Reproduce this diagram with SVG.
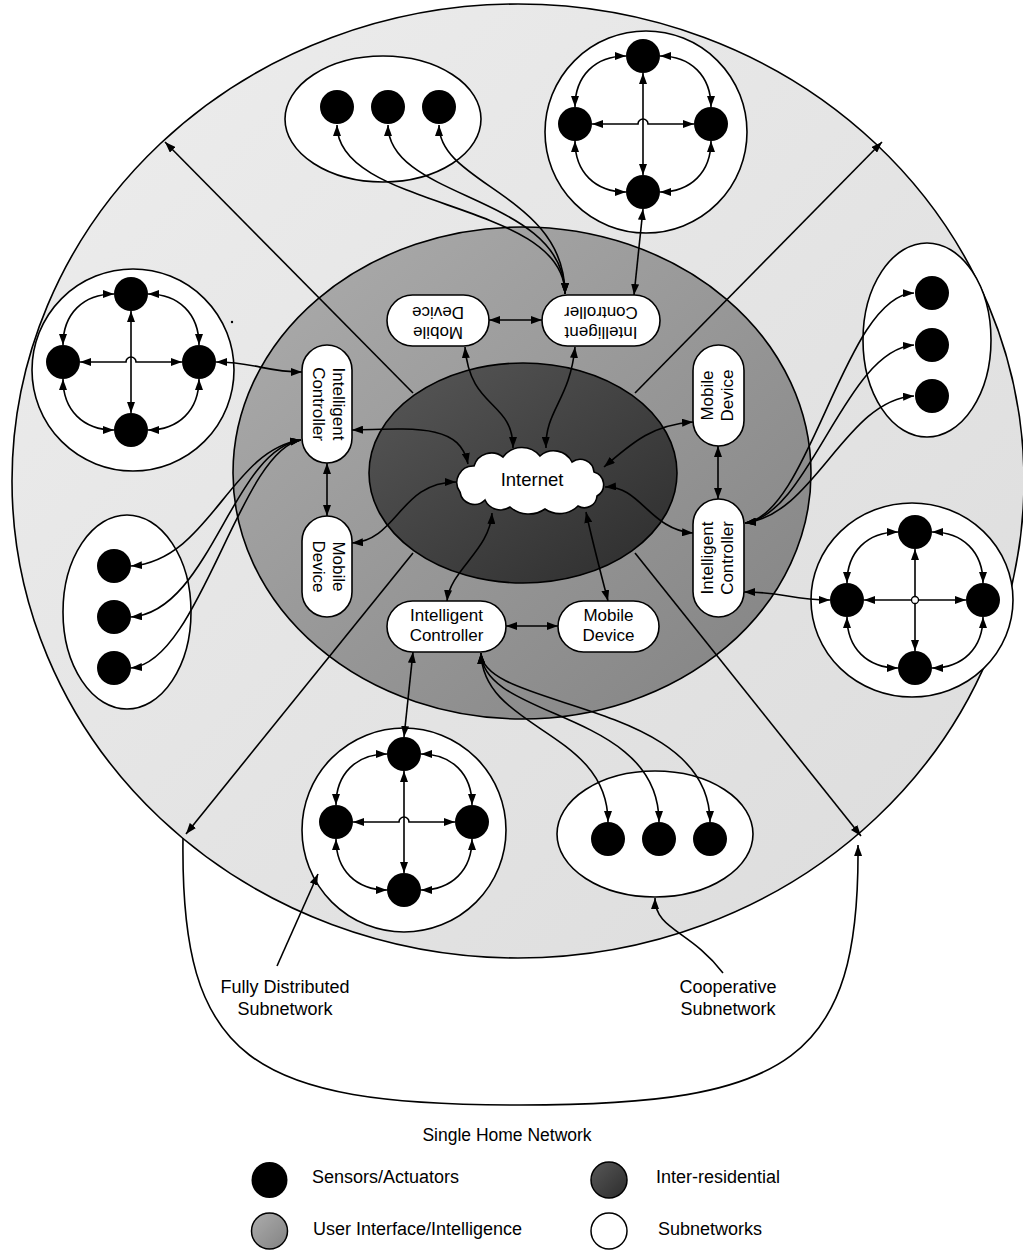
<svg xmlns="http://www.w3.org/2000/svg" xmlns:xlink="http://www.w3.org/1999/xlink" width="1023" height="1250" viewBox="0 0 1023 1250">
<style>
.conn{fill:none;stroke:#000;stroke-width:1.6;marker-start:url(#ah);marker-end:url(#ah)}
.one{fill:none;stroke:#000;stroke-width:1.6;marker-end:url(#ah)}
.plain{fill:none;stroke:#000;stroke-width:1.6}
.sub{fill:#fff;stroke:#000;stroke-width:1.6}
.dot{fill:#000}
.box{fill:#fff;stroke:#000;stroke-width:1.6}
.lbl{font-family:"Liberation Sans",Arial,sans-serif;font-size:17px;text-anchor:middle;fill:#000}
.cap{font-family:"Liberation Sans",Arial,sans-serif;font-size:18px;text-anchor:middle;fill:#000}
.leg{font-family:"Liberation Sans",Arial,sans-serif;font-size:18px;fill:#000}
</style>
<defs>
<marker id="ah" viewBox="0 0 11 8" refX="11" refY="4" markerWidth="11" markerHeight="8" markerUnits="userSpaceOnUse" orient="auto-start-reverse"><path d="M0,0 L11,4 L0,8 Z" fill="#000"/></marker>
<linearGradient id="gOuter" x1="0" y1="0" x2="1" y2="1"><stop offset="0" stop-color="#ededed"/><stop offset="1" stop-color="#dcdcdc"/></linearGradient>
<linearGradient id="gMid" x1="0" y1="0" x2="1" y2="1"><stop offset="0" stop-color="#adadad"/><stop offset="1" stop-color="#828282"/></linearGradient>
<linearGradient id="gDark" x1="0" y1="0" x2="1" y2="1"><stop offset="0" stop-color="#585858"/><stop offset="1" stop-color="#2c2c2c"/></linearGradient>
<g id="fd">
<path class="conn" d="M -17 -68 C -48 -68 -68 -48 -68 -17"/>
<path class="conn" d="M 17 -68 C 48 -68 68 -48 68 -17"/>
<path class="conn" d="M -17 68 C -48 68 -68 48 -68 17"/>
<path class="conn" d="M 17 68 C 48 68 68 48 68 17"/>
<path class="conn" d="M 0 -51 L 0 51"/>
<circle class="dot" cx="0" cy="-68" r="17"/>
<circle class="dot" cx="-68" cy="0" r="17"/>
<circle class="dot" cx="68" cy="0" r="17"/>
<circle class="dot" cx="0" cy="68" r="17"/>
</g>
<g id="fdHop">
<use xlink:href="#fd" href="#fd"/>
<path class="conn" d="M -51 0 L -5 0 A 5 5 0 0 1 5 0 L 51 0"/>
</g>
</defs>

<g id="background">
<ellipse cx="518" cy="481" rx="506" ry="477" fill="url(#gOuter)" stroke="#000" stroke-width="1.6"/>
<ellipse cx="522" cy="473" rx="289" ry="246" fill="url(#gMid)" stroke="#000" stroke-width="1.6"/>
<path class="one" d="M 413 393 L 165 142"/>
<path class="one" d="M 635 393 L 882 142"/>
<path class="one" d="M 413 553 L 186 834"/>
<path class="one" d="M 635 553 L 861 836"/>
<ellipse cx="523" cy="473" rx="154" ry="110" fill="url(#gDark)" stroke="#000" stroke-width="1.6"/>
<circle cx="232" cy="322" r="1.2" fill="#000"/>
</g>

<g id="sub-top-coop">
<ellipse class="sub" cx="383" cy="119" rx="98" ry="63"/>
<circle class="dot" cx="337" cy="107" r="17"/>
<circle class="dot" cx="388" cy="107" r="17"/>
<circle class="dot" cx="439" cy="107" r="17"/>
</g>
<g id="sub-top-fd">
<circle class="sub" cx="646" cy="132" r="101"/>
<use xlink:href="#fdHop" href="#fdHop" transform="translate(643,124)"/>
</g>
<g id="sub-left-fd">
<circle class="sub" cx="133" cy="370" r="101"/>
<use xlink:href="#fdHop" href="#fdHop" transform="translate(131,362)"/>
</g>
<g id="sub-left-coop">
<ellipse class="sub" cx="127" cy="612" rx="64" ry="97"/>
<circle class="dot" cx="114" cy="566" r="17"/>
<circle class="dot" cx="114" cy="617" r="17"/>
<circle class="dot" cx="114" cy="668" r="17"/>
</g>
<g id="sub-right-coop">
<ellipse class="sub" cx="927" cy="340" rx="64" ry="97"/>
<circle class="dot" cx="932" cy="293" r="17"/>
<circle class="dot" cx="932" cy="345" r="17"/>
<circle class="dot" cx="932" cy="396" r="17"/>
</g>
<g id="sub-right-fd">
<ellipse class="sub" cx="912" cy="600" rx="101" ry="97"/>
<use xlink:href="#fd" href="#fd" transform="translate(915,600)"/>
<path class="conn" d="M 864 600 L 966 600"/>
<circle cx="915" cy="600" r="3.5" fill="#fff" stroke="#000" stroke-width="1.3"/>
</g>
<g id="sub-bottom-fd">
<circle class="sub" cx="404" cy="830" r="102"/>
<use xlink:href="#fdHop" href="#fdHop" transform="translate(404,822)"/>
</g>
<g id="sub-bottom-coop">
<ellipse class="sub" cx="655" cy="834" rx="98" ry="63"/>
<circle class="dot" cx="608" cy="839" r="17"/>
<circle class="dot" cx="659" cy="839" r="17"/>
<circle class="dot" cx="710" cy="839" r="17"/>
</g>

<g id="connectors">
<!-- top -->
<path class="conn" d="M 489 320 L 542 320"/>
<path class="conn" d="M 337 125 C 337 210 565 200 565 294"/>
<path class="conn" d="M 388 125 C 388 200 565 195 565 294"/>
<path class="conn" d="M 439 125 C 439 185 565 195 565 294"/>
<path class="conn" d="M 634 295 L 643 209"/>
<path class="conn" d="M 575 347 C 570 400 545 410 546 448"/>
<path class="conn" d="M 465 347 C 470 410 513 400 513 448"/>
<!-- left -->
<path class="conn" d="M 327 463 L 327 516"/>
<path class="conn" d="M 216 362 C 255 362 265 372 302 372"/>
<path class="conn" d="M 131 566 C 210 560 230 450 301 440"/>
<path class="conn" d="M 131 617 C 210 612 232 450 301 440"/>
<path class="conn" d="M 131 668 C 200 662 240 450 301 440"/>
<path class="conn" d="M 352 430 C 420 428 460 425 468 464"/>
<path class="conn" d="M 352 543 C 398 540 400 482 456 482"/>
<!-- right -->
<path class="conn" d="M 718 446 L 718 499"/>
<path class="conn" d="M 745 523 C 810 515 845 295 914 293"/>
<path class="conn" d="M 745 523 C 810 515 845 350 914 345"/>
<path class="conn" d="M 745 523 C 815 515 845 400 914 396"/>
<path class="conn" d="M 744 592 C 785 592 790 600 830 600"/>
<path class="conn" d="M 693 422 C 650 425 630 445 604 467"/>
<path class="conn" d="M 693 533 C 650 530 640 485 605 487"/>
<!-- bottom -->
<path class="conn" d="M 506 626 L 558 626"/>
<path class="conn" d="M 413 652 L 404 737"/>
<path class="conn" d="M 481 653 C 483 730 608 730 608 822"/>
<path class="conn" d="M 481 653 C 483 720 659 710 659 822"/>
<path class="conn" d="M 481 653 C 483 710 710 700 710 822"/>
<path class="conn" d="M 447 601 C 450 570 490 550 492 513"/>
<path class="conn" d="M 608 601 C 600 570 592 540 586 512"/>
<!-- annotations -->
<path class="one" d="M 183 838 C 180 1060 250 1105 520 1105 C 790 1105 860 1060 858 845"/>
<path class="one" d="M 277 966 L 318 874"/>
<path class="one" d="M 723 973 C 690 930 655 930 655 898"/>
</g>

<g id="internet">
<path d="M 460 492 A 16.4 16.4 0 0 1 474 466 A 18.4 18.4 0 0 1 503 457 A 23.5 23.5 0 0 1 540 456 A 20.6 20.6 0 0 1 572 462 A 13.9 13.9 0 0 1 594 472 A 13.1 13.1 0 0 1 597 496 A 12.6 12.6 0 0 1 578 506 A 25.8 25.8 0 0 1 545 509 A 28.5 28.5 0 0 1 510 507 A 17 17 0 0 1 485 500 A 14.7 14.7 0 0 1 460 492 Z" fill="#fff" stroke="#000" stroke-width="1.6"/>
<text x="532" y="486" style="font-family:'Liberation Sans',Arial,sans-serif;font-size:18.5px;text-anchor:middle">Internet</text>
</g>

<g id="top-mobile">
<rect class="box" x="387" y="295" width="102" height="51" rx="25.5"/>
<g transform="rotate(180 438 320.5)"><text class="lbl" x="438" y="314.5">Mobile</text><text class="lbl" x="438" y="334.5">Device</text></g>
</g>
<g id="top-controller">
<rect class="box" x="542" y="295" width="118" height="51" rx="25.5"/>
<g transform="rotate(180 601 320.5)"><text class="lbl" x="601" y="314.5">Intelligent</text><text class="lbl" x="601" y="334.5">Controller</text></g>
</g>
<g id="left-controller">
<rect class="box" x="302" y="345" width="50" height="118" rx="25"/>
<g transform="rotate(90 327 404)"><text class="lbl" x="327" y="398">Intelligent</text><text class="lbl" x="327" y="418">Controller</text></g>
</g>
<g id="left-mobile">
<rect class="box" x="302" y="516" width="50" height="101" rx="25"/>
<g transform="rotate(90 327 566.5)"><text class="lbl" x="327" y="560.5">Mobile</text><text class="lbl" x="327" y="580.5">Device</text></g>
</g>
<g id="right-mobile">
<rect class="box" x="693" y="345" width="51" height="101" rx="25.5"/>
<g transform="rotate(-90 718.5 395.5)"><text class="lbl" x="718.5" y="389.5">Mobile</text><text class="lbl" x="718.5" y="409.5">Device</text></g>
</g>
<g id="right-controller">
<rect class="box" x="693" y="499" width="51" height="118" rx="25.5"/>
<g transform="rotate(-90 718.5 558)"><text class="lbl" x="718.5" y="552">Intelligent</text><text class="lbl" x="718.5" y="572">Controller</text></g>
</g>
<g id="bottom-controller">
<rect class="box" x="387" y="601" width="119" height="51" rx="25.5"/>
<text class="lbl" x="446.5" y="620.5">Intelligent</text><text class="lbl" x="446.5" y="640.5">Controller</text>
</g>
<g id="bottom-mobile">
<rect class="box" x="558" y="601" width="101" height="51" rx="25.5"/>
<text class="lbl" x="608.5" y="620.5">Mobile</text><text class="lbl" x="608.5" y="640.5">Device</text>
</g>

<g id="labels">
<text class="cap" x="285" y="993">Fully Distributed</text>
<text class="cap" x="285" y="1015">Subnetwork</text>
<text class="cap" x="728" y="993">Cooperative</text>
<text class="cap" x="728" y="1015">Subnetwork</text>
</g>

<g id="legend">
<text class="cap" x="507" y="1141" style="font-size:17.5px">Single Home Network</text>
<circle cx="269.5" cy="1180" r="18" fill="#000"/>
<text class="leg" x="312" y="1183">Sensors/Actuators</text>
<circle cx="609" cy="1180" r="18" fill="url(#gDark)" stroke="#000" stroke-width="1.5"/>
<text class="leg" x="656" y="1183">Inter-residential</text>
<circle cx="269.5" cy="1231" r="18" fill="url(#gMid)" stroke="#000" stroke-width="1.5"/>
<text class="leg" x="313" y="1235">User Interface/Intelligence</text>
<circle cx="609" cy="1231" r="18" fill="#fff" stroke="#000" stroke-width="1.5"/>
<text class="leg" x="658" y="1235">Subnetworks</text>
</g>
</svg>
